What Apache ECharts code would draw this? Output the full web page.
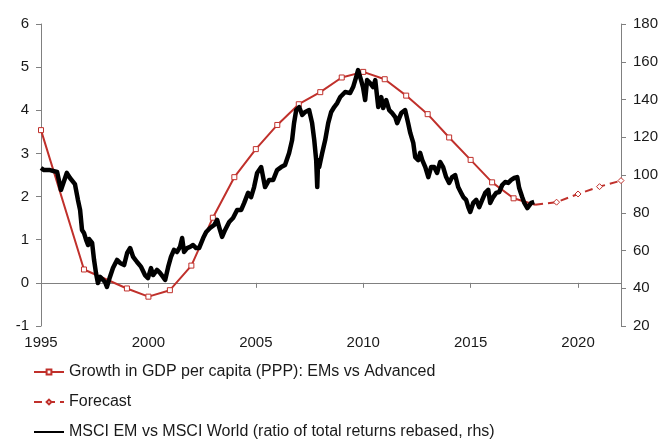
<!DOCTYPE html>
<html>
<head>
<meta charset="utf-8">
<script src="https://cdn.jsdelivr.net/npm/echarts@6/dist/echarts.min.js"></script>
<style>
  html, body { margin: 0; padding: 0; background: #fff; }
  #chart { width: 665px; height: 441px; }
</style>
</head>
<body>
<div id="chart"></div>
<script>
// GDP per capita growth differential, EMs vs Advanced (lhs)
var gdpYears = [1995, 1997, 1999, 2000, 2001, 2002, 2003, 2004, 2005, 2006, 2007, 2008, 2009, 2010, 2011, 2012, 2013, 2014, 2015, 2016, 2017, 2018]
var gdpValues = [3.54, 0.31, -0.13, -0.32, -0.17, 0.40, 1.51, 2.45, 3.10, 3.66, 4.14, 4.42, 4.76, 4.89, 4.72, 4.34, 3.91, 3.37, 2.85, 2.33, 1.96, 1.81]
// forecast
var fcYears = [2018, 2019, 2020, 2021, 2022]
var fcValues = [1.81, 1.87, 2.06, 2.23, 2.37]
// MSCI EM vs MSCI World (rhs)
var msciDates = [1995.00, 1995.14, 1995.42, 1995.75, 1995.93, 1996.20, 1996.35, 1996.58, 1996.72, 1996.82, 1996.91, 1997.00, 1997.10, 1997.19, 1997.24, 1997.38, 1997.47, 1997.56, 1997.65, 1997.75, 1997.89, 1997.98, 1998.07, 1998.21, 1998.35, 1998.54, 1998.68, 1998.87, 1999.01, 1999.15, 1999.29, 1999.47, 1999.66, 1999.84, 1999.98, 2000.12, 2000.22, 2000.40, 2000.54, 2000.68, 2000.78, 2000.92, 2001.05, 2001.19, 2001.33, 2001.47, 2001.57, 2001.66, 2001.80, 2001.94, 2002.08, 2002.22, 2002.36, 2002.55, 2002.69, 2002.87, 2003.06, 2003.20, 2003.29, 2003.43, 2003.57, 2003.76, 2003.94, 2004.13, 2004.32, 2004.46, 2004.64, 2004.78, 2004.92, 2005.06, 2005.25, 2005.34, 2005.43, 2005.62, 2005.81, 2005.99, 2006.18, 2006.36, 2006.55, 2006.69, 2006.78, 2006.88, 2007.02, 2007.16, 2007.30, 2007.48, 2007.62, 2007.72, 2007.81, 2007.86, 2007.90, 2007.95, 2008.09, 2008.23, 2008.37, 2008.51, 2008.65, 2008.79, 2008.93, 2009.16, 2009.39, 2009.53, 2009.67, 2009.76, 2009.90, 2009.99, 2010.09, 2010.18, 2010.32, 2010.46, 2010.56, 2010.70, 2010.84, 2010.93, 2011.07, 2011.21, 2011.35, 2011.49, 2011.58, 2011.77, 2011.95, 2012.09, 2012.19, 2012.33, 2012.42, 2012.56, 2012.65, 2012.75, 2012.89, 2013.03, 2013.16, 2013.30, 2013.44, 2013.58, 2013.72, 2013.86, 2014.00, 2014.14, 2014.28, 2014.42, 2014.56, 2014.66, 2014.79, 2014.89, 2014.98, 2015.12, 2015.26, 2015.40, 2015.54, 2015.68, 2015.82, 2015.91, 2016.05, 2016.19, 2016.33, 2016.47, 2016.61, 2016.75, 2016.89, 2017.03, 2017.17, 2017.26, 2017.40, 2017.50, 2017.64, 2017.73, 2017.82, 2017.96]
var msciValues = [103.7, 102.6, 102.6, 101.6, 92.1, 101.1, 98.4, 95.2, 86.8, 81.5, 70.9, 69.3, 65.6, 62.9, 66.1, 64.0, 55.0, 48.1, 42.8, 46.0, 44.4, 43.3, 40.7, 46.0, 50.7, 55.0, 53.4, 52.3, 58.7, 61.3, 56.6, 53.9, 51.3, 47.0, 45.4, 50.7, 47.0, 49.7, 48.1, 46.0, 44.4, 51.3, 56.6, 60.3, 59.2, 61.9, 66.6, 59.2, 61.3, 61.9, 62.9, 61.3, 61.3, 66.6, 69.8, 71.9, 73.5, 76.2, 72.5, 67.2, 70.9, 75.1, 77.2, 81.5, 81.5, 85.2, 90.5, 88.3, 93.6, 101.1, 104.2, 103.7, 93.6, 97.4, 97.4, 102.6, 104.2, 105.3, 111.7, 118.5, 127.5, 134.4, 136.0, 131.8, 133.4, 134.4, 127.5, 118.5, 107.9, 93.6, 107.9, 104.2, 111.7, 118.5, 127.5, 133.4, 136.0, 138.1, 141.3, 144.0, 143.4, 146.6, 151.9, 155.6, 150.3, 146.6, 139.7, 150.3, 148.7, 146.6, 150.3, 136.0, 141.3, 135.5, 139.7, 134.4, 132.8, 130.7, 127.5, 132.8, 134.4, 127.5, 122.3, 117.0, 109.5, 107.9, 111.7, 107.9, 104.2, 98.9, 104.2, 104.2, 101.1, 106.9, 104.2, 98.9, 95.8, 98.9, 100.0, 93.6, 90.5, 88.3, 86.8, 83.0, 80.4, 85.2, 86.8, 83.0, 86.8, 90.5, 92.1, 85.2, 88.3, 90.5, 91.0, 94.7, 96.3, 95.8, 97.4, 98.4, 98.9, 93.1, 88.3, 85.2, 82.5, 81.5, 85.2, 85.7]

var red = '#c0302b'
var font = "'Liberation Sans', Arial, sans-serif"

function pairs(xs, ys) {
  var out = []
  var n = Math.min(xs.length, ys.length)
  for (var i = 0; i < n; i++) {
    out.push([xs[i], ys[i]])
  }
  return out
}

var gdpData = pairs(gdpYears, gdpValues)
// last actual point sits under the forecast start, no marker
gdpData[gdpData.length - 1] = { value: gdpData[gdpData.length - 1], symbol: 'none' }
var fcData = pairs(fcYears, fcValues)
fcData[0] = { value: fcData[0], symbol: 'none' }

var axisLine = { show: true, lineStyle: { color: '#808080', width: 1 } }
var axisTick = { show: true, length: 5, lineStyle: { color: '#808080' } }
var labelStyle = { color: '#1a1a1a', fontSize: 15, fontFamily: font }

var myChart = echarts.init(document.getElementById('chart'))
var option = {
  animation: false,
  grid: { left: 41, right: 44, top: 24, bottom: 115, containLabel: false },
  legend: {
    orient: 'vertical',
    left: 33,
    top: 364,
    padding: 0,
    itemWidth: 30,
    itemHeight: 6,
    itemGap: 14,
    textStyle: { color: '#1a1a1a', fontSize: 16, fontFamily: font, lineHeight: 16 },
    data: [
      { name: 'Growth in GDP per capita (PPP): EMs vs Advanced' },
      { name: 'Forecast' },
      { name: 'MSCI EM vs MSCI World (ratio of total returns rebased, rhs)', itemStyle: { opacity: 0 } }
    ]
  },
  xAxis: {
    type: 'value',
    min: 1995,
    max: 2022,
    interval: 5,
    splitLine: { show: false },
    axisLine: axisLine,
    axisTick: axisTick,
    axisLabel: Object.assign({ margin: 9, showMaxLabel: false, formatter: function(v) { return String(v) } }, labelStyle)
  },
  yAxis: [
    {
      type: 'value',
      min: -1,
      max: 6,
      interval: 1,
      position: 'left',
      splitLine: { show: false },
      axisLine: axisLine,
      axisTick: axisTick,
      axisLabel: Object.assign({ margin: 12 }, labelStyle)
    },
    {
      type: 'value',
      min: 20,
      max: 180,
      interval: 20,
      position: 'right',
      splitLine: { show: false },
      axisLine: axisLine,
      axisTick: axisTick,
      axisLabel: Object.assign({ margin: 12 }, labelStyle)
    }
  ],
  series: [
    {
      name: 'Growth in GDP per capita (PPP): EMs vs Advanced',
      type: 'line',
      yAxisIndex: 0,
      data: gdpData,
      symbol: 'rect',
      symbolSize: 5,
      showAllSymbol: true,
      lineStyle: { color: red, width: 2 },
      itemStyle: { color: '#fff', borderColor: red, borderWidth: 1 },
      z: 2
    },
    {
      name: 'Forecast',
      type: 'line',
      yAxisIndex: 0,
      data: fcData,
      symbol: 'diamond',
      symbolSize: 6,
      showAllSymbol: true,
      lineStyle: { color: red, width: 2, type: [8, 5] },
      itemStyle: { color: '#fff', borderColor: red, borderWidth: 1 },
      z: 2
    },
    {
      name: 'MSCI EM vs MSCI World (ratio of total returns rebased, rhs)',
      type: 'line',
      yAxisIndex: 1,
      data: pairs(msciDates, msciValues),
      symbol: 'none',
      lineStyle: { color: '#000', width: 4.5, join: 'round' },
      itemStyle: { color: '#000' },
      z: 3
    }
  ]
}
myChart.setOption(option)
</script>
</body>
</html>
